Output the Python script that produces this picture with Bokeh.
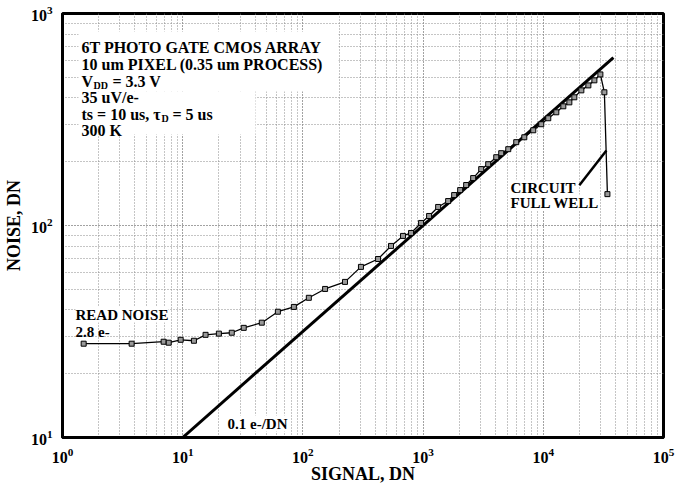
from bokeh.plotting import figure
from bokeh.models import FixedTicker, Label, BoxAnnotation
from bokeh.embed import file_html
from bokeh.resources import INLINE

# Measured noise vs. signal (DN), photon transfer curve
signal_dn = [1.50, 3.76, 6.94, 7.65, 9.62, 12.4, 15.5, 20.0, 25.6, 32.2,
             45.5, 61.9, 84.1, 112, 153, 224, 304, 422, 541, 681,
             794, 962, 1122, 1334, 1616, 1813, 2034, 2282, 2610, 3044,
             3481, 4060, 4467, 5110, 5957, 6950, 8250, 9620, 11000, 12830,
             14680, 16470, 18120, 20730, 23710, 26610, 29850, 32220, 34150]
noise_dn = [27.7, 27.7, 28.3, 28.0, 28.9, 28.6, 30.5, 30.9, 31.2, 32.9,
            34.8, 39.2, 41.3, 45.6, 50.2, 54.2, 63.8, 69.5, 80.1, 89.3,
            92.2, 102.8, 110.9, 122.3, 130.4, 139.2, 146.9, 155.2, 167.4, 184.5,
            194.6, 209.9, 219.3, 229.1, 247.2, 260.7, 281.3, 300.4, 320.5, 342.0,
            365.0, 381.0, 402.5, 434.0, 458.0, 484.0, 516.0, 425.0, 140.6]

# Ideal shot-noise line, 0.1 e-/DN (slope 1/2)
shot_signal = [10, 38300]
shot_noise = [10, 619]

# Leader from the "CIRCUIT FULL WELL" note to the roll-off
leader_signal = [19950, 33500]
leader_noise = [155, 226]

x_decades = [1, 10, 100, 1000, 10000, 100000]
y_decades = [10, 100, 1000]

SERIF = "Liberation Serif"

# frame: left 62, right 663, top 13, bottom 438 on the canvas
FL, FB = 62, 438

p = figure(width=681, height=486, x_axis_type="log", y_axis_type="log",
           x_range=(1, 1e5), y_range=(10, 1000),
           min_border_left=62, min_border_right=18,
           min_border_top=13, min_border_bottom=48,
           output_backend="svg", toolbar_location=None,
           background_fill_color="white", border_fill_color="white")

p.outline_line_color = "black"
p.outline_line_width = 3
p.outline_line_alpha = 1

x_minor = [m * d for d in x_decades[:-1] for m in range(2, 10)]
y_minor = [m * d for d in y_decades[:-1] for m in range(2, 10)]

p.xaxis.ticker = FixedTicker(ticks=x_decades)
p.yaxis.ticker = FixedTicker(ticks=y_decades)
p.xgrid.ticker = FixedTicker(ticks=x_decades, minor_ticks=x_minor)
p.ygrid.ticker = FixedTicker(ticks=y_decades, minor_ticks=y_minor)

for g in (p.xgrid, p.ygrid):
    g.grid_line_color = "#444444"
    g.grid_line_dash = "1 2"
    g.grid_line_width = 1
    g.minor_grid_line_color = "#8a8a8a"
    g.minor_grid_line_dash = "1 2"
    g.minor_grid_line_width = 1

for ax in (p.xaxis, p.yaxis):
    ax.axis_line_color = "black"
    ax.axis_line_width = 3
    ax.major_tick_line_color = None
    ax.minor_tick_line_color = None
    ax.major_label_text_font = SERIF
    ax.major_label_text_font_style = "bold"
    ax.major_label_text_font_size = "16px"
    ax.major_label_text_color = "black"
    ax.axis_label_text_font = SERIF
    ax.axis_label_text_font_style = "bold"
    ax.axis_label_text_font_size = "18px"
    ax.axis_label_text_color = "black"
p.xaxis.major_label_standoff = 4
p.yaxis.major_label_standoff = 4
p.xaxis.axis_label = "SIGNAL, DN"
p.yaxis.axis_label = "NOISE, DN"
p.xaxis.axis_label_standoff = -2
p.yaxis.axis_label_standoff = 4


def put(text, cx, cy, size=16, bg=False, **kw):
    """Place text by canvas pixel (cx = left, cy = baseline)."""
    lab = Label(x=cx - FL, y=FB - cy, x_units="screen", y_units="screen",
                text=text, text_font=SERIF, text_font_style="bold",
                text_font_size=f"{size}px", text_color="black",
                text_baseline="alphabetic", **kw)
    if bg:
        lab.background_fill_color = "white"
        lab.background_fill_alpha = 1.0
    p.add_layout(lab)
    return lab


# white backdrop behind the description block
p.add_layout(BoxAnnotation(left=78 - FL, right=338 - FL, top=FB - 32, bottom=FB - 92,
                           left_units="screen", right_units="screen",
                           top_units="screen", bottom_units="screen",
                           fill_color="white", fill_alpha=1, line_alpha=0))
p.add_layout(BoxAnnotation(left=78 - FL, right=255 - FL, top=FB - 92, bottom=FB - 135,
                           left_units="screen", right_units="screen",
                           top_units="screen", bottom_units="screen",
                           fill_color="white", fill_alpha=1, line_alpha=0))

# curves
p.line(shot_signal, shot_noise, line_color="black", line_width=3)
p.line(leader_signal, leader_noise, line_color="black", line_width=2.5)
p.line(signal_dn, noise_dn, line_color="black", line_width=1.3)
p.scatter(signal_dn, noise_dn, marker="square", size=5,
          fill_color="#999999", line_color="black", line_width=1)

# description block
put("6T PHOTO GATE CMOS ARRAY", 81, 48)
put("10 um PIXEL (0.35 um PROCESS)", 81, 65)
put("V", 81, 82)
put("DD", 93, 86, size=10)
put("= 3.3 V", 112, 82)
put("35 uV/e-", 81, 98)
put("ts = 10 us, \u03c4", 81, 115)
put("D", 161, 119, size=10)
put("= 5 us", 172, 115)
put("300 K", 81, 131)

# annotations
put("READ NOISE", 75, 315, size=15, bg=True)
put("2.8 e-", 75, 332, size=15)
put("0.1 e-/DN", 227, 424, size=15, bg=True)
put("CIRCUIT", 510, 188, size=15, bg=True)
put("FULL WELL", 510, 203, size=15, bg=True)

open("out.html", "w").write(file_html(p, INLINE))
